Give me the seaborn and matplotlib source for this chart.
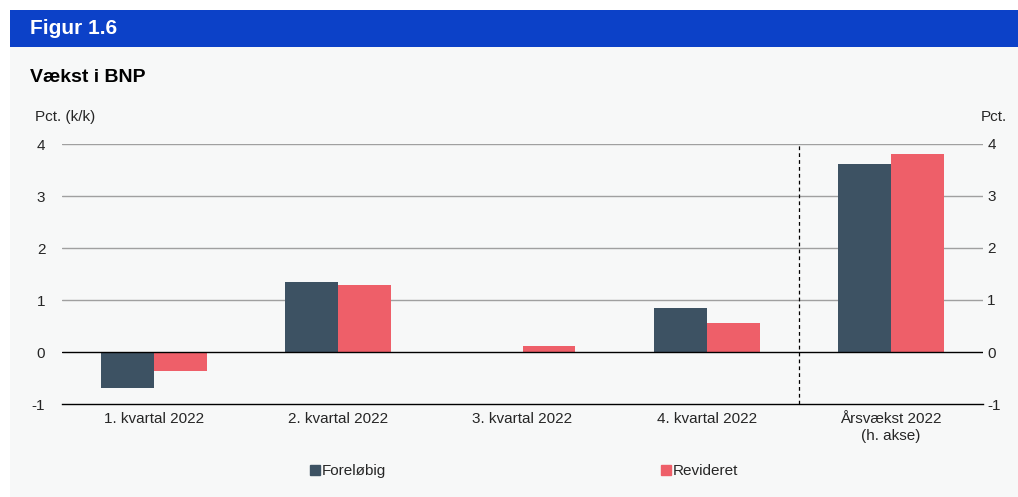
import matplotlib
matplotlib.use("Agg")
import matplotlib.pyplot as plt
from matplotlib.patches import Rectangle
from matplotlib.lines import Line2D
import seaborn as sns
import pandas as pd

# --- data ---
kategorier = ["1. kvartal 2022", "2. kvartal 2022", "3. kvartal 2022",
              "4. kvartal 2022", "Årsvækst 2022\n(h. akse)"]
foreloebig = [-0.69, 1.35, 0.0, 0.85, 3.62]
revideret = [-0.37, 1.28, 0.12, 0.56, 3.81]
serier = ["Foreløbig", "Revideret"]
y_ticks = [-1, 0, 1, 2, 3, 4]

farver = {"Foreløbig": "#3D5263", "Revideret": "#EE5F69"}
bg = "#F7F8F8"

df = pd.DataFrame({
    "kategori": kategorier * 2,
    "serie": [serier[0]] * len(kategorier) + [serier[1]] * len(kategorier),
    "vaerdi": foreloebig + revideret,
})

sns.set_style("white")
plt.rcParams["font.family"] = ["Liberation Sans", "DejaVu Sans"]

W, H = 1018, 497
fig = plt.figure(figsize=(W / 100, H / 100), dpi=100, facecolor="white")

# baggrund og banner
fig.patches.append(Rectangle((10 / W, 0), 1 - 10 / W, 1 - 47 / H,
                             transform=fig.transFigure, facecolor=bg, edgecolor="none", zorder=-10))
fig.patches.append(Rectangle((10 / W, 1 - 47 / H), 1 - 10 / W, 37 / H,
                             transform=fig.transFigure, facecolor="#0C41C8", edgecolor="none", zorder=-10))
fig.text(30 / W, 1 - 29 / H, "Figur 1.6", color="white", fontsize=15, fontweight="bold", va="center")
fig.text(30 / W, 1 - 77 / H, "Vækst i BNP", color="black", fontsize=14, fontweight="bold", va="center")
fig.text(35 / W, 1 - 117 / H, "Pct. (k/k)", fontsize=11, va="center")
fig.text(1007 / W, 1 - 117 / H, "Pct.", fontsize=11, va="center", ha="right")

ax = fig.add_axes([62 / W, 1 - 404 / H, (983 - 62) / W, (404 - 144) / H])
ax.set_facecolor(bg)

sns.barplot(data=df, x="kategori", y="vaerdi", hue="serie", palette=farver,
            width=0.575, gap=0, saturation=1, linewidth=0, ax=ax, legend=False, zorder=3)

ax.set_ylim(-1, 4)
ax.set_xlim(-0.5, len(kategorier) - 0.5)
ax.set_yticks(y_ticks)
ax.set_yticklabels([str(t) for t in y_ticks], fontsize=11)
for t in y_ticks[2:]:
    ax.axhline(t, color="#A0A0A0", lw=1, zorder=1)
ax.axhline(0, color="black", lw=1, zorder=4)
ax.axvline(3.5, color="black", lw=0.9, ls=(0, (3, 2.5)), zorder=2)

ax.set_xlabel("")
ax.set_ylabel("")
ax.tick_params(axis="y", length=0, pad=12)
ax.set_xticks(range(len(kategorier)))
ax.set_xticklabels(kategorier, fontsize=11)
ax.set_xticks([i - 0.5 for i in range(len(kategorier) + 1)], minor=True)
ax.tick_params(axis="x", which="major", length=0, pad=6)
ax.tick_params(axis="x", which="minor", length=5, width=1, color="black", direction="out")
for s in ["top", "left", "right"]:
    ax.spines[s].set_visible(False)
ax.spines["bottom"].set_color("black")
ax.spines["bottom"].set_linewidth(1)

ax2 = ax.twinx()
ax2.set_ylim(-1, 4)
ax2.set_yticks(y_ticks)
ax2.set_yticklabels([str(t) for t in y_ticks], fontsize=11)
ax2.tick_params(axis="y", length=0, pad=3)
for s in ax2.spines.values():
    s.set_visible(False)

handles = [Line2D([], [], marker="s", ls="none", color=farver[s], markersize=7) for s in serier]
fig.legend(handles, serier, loc="center", bbox_to_anchor=(0.5 + 15 / W, 1 - 471 / H), ncol=2,
           frameon=False, fontsize=11, handlelength=0.6, handletextpad=0.15, columnspacing=18.0)

fig.savefig("out.png", dpi=100, facecolor=fig.get_facecolor())
